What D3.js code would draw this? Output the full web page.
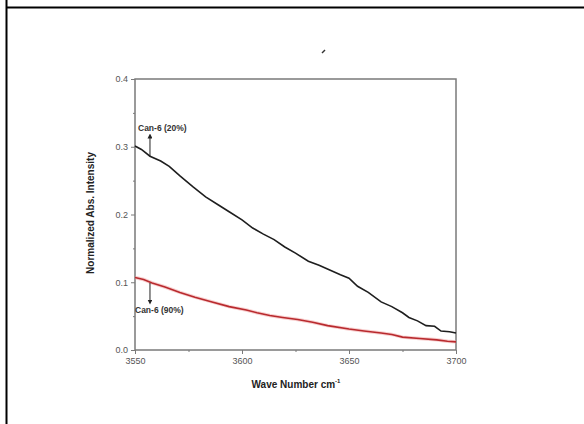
<!DOCTYPE html>
<html>
<head>
<meta charset="utf-8">
<script src="https://cdn.jsdelivr.net/npm/d3@7"></script>
<style>
  html, body { margin: 0; padding: 0; background: #fff; }
  svg { display: block; }
</style>
</head>
<body>
<svg id="chart" width="584" height="424"></svg>
<script>
// Wave number (cm^-1) and normalized absorbance for both samples
const waveNumbers20 = [3550, 3553, 3557, 3562, 3566, 3571, 3577, 3583, 3589, 3594, 3600, 3605, 3610, 3615, 3620, 3625, 3631, 3636, 3641, 3646, 3650, 3654, 3659, 3665, 3670, 3675, 3678, 3682, 3686, 3690, 3693, 3697, 3700];
const intensity20   = [0.301, 0.296, 0.286, 0.279, 0.271, 0.257, 0.241, 0.226, 0.214, 0.204, 0.192, 0.180, 0.171, 0.163, 0.152, 0.143, 0.131, 0.125, 0.118, 0.111, 0.106, 0.094, 0.085, 0.071, 0.064, 0.055, 0.048, 0.043, 0.036, 0.035, 0.028, 0.027, 0.025];
const waveNumbers90 = [3550, 3554, 3558, 3564, 3571, 3578, 3586, 3594, 3602, 3607, 3613, 3619, 3626, 3633, 3640, 3650, 3657, 3665, 3670, 3675, 3683, 3691, 3696, 3700];
const intensity90   = [0.107, 0.104, 0.099, 0.093, 0.085, 0.078, 0.071, 0.064, 0.059, 0.055, 0.051, 0.048, 0.045, 0.041, 0.036, 0.031, 0.028, 0.025, 0.023, 0.019, 0.017, 0.015, 0.013, 0.012];

const xMajorTicks = [3550, 3600, 3650, 3700];
const xMinorTicks = [3575, 3625, 3675];
const yMajorTicks = [0.0, 0.1, 0.2, 0.3, 0.4];
const yMinorTicks = [0.05, 0.15, 0.25, 0.35];

const svg = d3.select("#chart");

// outer frame lines
svg.append("line").attr("x1", 6.5).attr("x2", 6.5).attr("y1", 0).attr("y2", 424)
  .attr("stroke", "#000").attr("stroke-width", 2);
svg.append("line").attr("x1", 6).attr("x2", 584).attr("y1", 7.5).attr("y2", 7.5)
  .attr("stroke", "#000").attr("stroke-width", 2);

const plot = { left: 135, right: 456, top: 79, bottom: 350 };
const x = d3.scaleLinear().domain([3550, 3700]).range([plot.left, plot.right]);
const y = d3.scaleLinear().domain([0, 0.4]).range([plot.bottom, plot.top]);

const axisColor = "#7a7a7a";
const g = svg.append("g");

// plot box
g.append("rect")
  .attr("x", plot.left).attr("y", plot.top)
  .attr("width", plot.right - plot.left).attr("height", plot.bottom - plot.top)
  .attr("fill", "none").attr("stroke", axisColor).attr("stroke-width", 1.5);

// x axis
g.append("g").attr("transform", `translate(0,${plot.bottom})`)
  .call(d3.axisBottom(x).tickValues(xMajorTicks).tickFormat(d3.format("d")).tickSize(4).tickPadding(4));
g.append("g").attr("transform", `translate(0,${plot.bottom})`)
  .call(d3.axisBottom(x).tickValues(xMinorTicks).tickFormat("").tickSize(2));

// y axis
g.append("g").attr("transform", `translate(${plot.left},0)`)
  .call(d3.axisLeft(y).tickValues(yMajorTicks).tickFormat(d3.format(".1f")).tickSize(4).tickPadding(3));
g.append("g").attr("transform", `translate(${plot.left},0)`)
  .call(d3.axisLeft(y).tickValues(yMinorTicks).tickFormat("").tickSize(2));

g.selectAll(".domain").remove();
g.selectAll(".tick line").attr("stroke", axisColor).attr("stroke-width", 1);
g.selectAll(".tick text").attr("fill", "#555").attr("font-family", "Arial, 'Liberation Sans', sans-serif").attr("font-size", 9);

// axis titles
svg.append("text")
  .attr("x", 296).attr("y", 388)
  .attr("text-anchor", "middle")
  .attr("font-family", "Arial, 'Liberation Sans', sans-serif")
  .attr("font-weight", "bold").attr("font-size", 10).attr("fill", "#222")
  .text("Wave Number cm")
  .append("tspan").attr("dy", -5).attr("font-size", 6).text("-1");

svg.append("text")
  .attr("transform", "translate(94,213) rotate(-90)")
  .attr("text-anchor", "middle")
  .attr("font-family", "Arial, 'Liberation Sans', sans-serif")
  .attr("font-weight", "bold").attr("font-size", 10).attr("fill", "#222")
  .text("Normalized Abs. Intensity");

// series
const line = d3.line().x(d => x(d[0])).y(d => y(d[1]));
const data20 = waveNumbers20.map((w, i) => [w, intensity20[i]]);
const data90 = waveNumbers90.map((w, i) => [w, intensity90[i]]);

g.append("path").datum(data90).attr("d", line)
  .attr("fill", "none").attr("stroke", "#f2a0a0").attr("stroke-width", 3.5).attr("opacity", 0.5);
g.append("path").datum(data90).attr("d", line)
  .attr("fill", "none").attr("stroke", "#b82a2e").attr("stroke-width", 1.6);
g.append("path").datum(data20).attr("d", line)
  .attr("fill", "none").attr("stroke", "#1e1e1e").attr("stroke-width", 1.6);

// annotations with arrows
const defs = svg.append("defs");
defs.append("marker").attr("id", "head")
  .attr("viewBox", "0 0 6 6").attr("refX", 3).attr("refY", 3)
  .attr("markerWidth", 5).attr("markerHeight", 5).attr("orient", "auto")
  .append("path").attr("d", "M0,0 L6,3 L0,6 Z").attr("fill", "#222");

const annX = 3557;
g.append("line")
  .attr("x1", x(annX)).attr("x2", x(annX))
  .attr("y1", y(0.286)).attr("y2", 136)
  .attr("stroke", "#222").attr("stroke-width", 1).attr("marker-end", "url(#head)");
g.append("line")
  .attr("x1", x(annX)).attr("x2", x(annX))
  .attr("y1", y(0.099)).attr("y2", 302)
  .attr("stroke", "#222").attr("stroke-width", 1).attr("marker-end", "url(#head)");

svg.append("text").attr("x", 138).attr("y", 131)
  .attr("font-family", "Arial, 'Liberation Sans', sans-serif")
  .attr("font-weight", "bold").attr("font-size", 8.5).attr("fill", "#333")
  .text("Can-6 (20%)");
svg.append("text").attr("x", 135).attr("y", 313)
  .attr("font-family", "Arial, 'Liberation Sans', sans-serif")
  .attr("font-weight", "bold").attr("font-size", 8.5).attr("fill", "#333")
  .text("Can-6 (90%)");

// small stray mark above the plot
svg.append("line").attr("x1", 322).attr("y1", 53).attr("x2", 325).attr("y2", 50)
  .attr("stroke", "#333").attr("stroke-width", 1.5);
</script>
</body>
</html>
